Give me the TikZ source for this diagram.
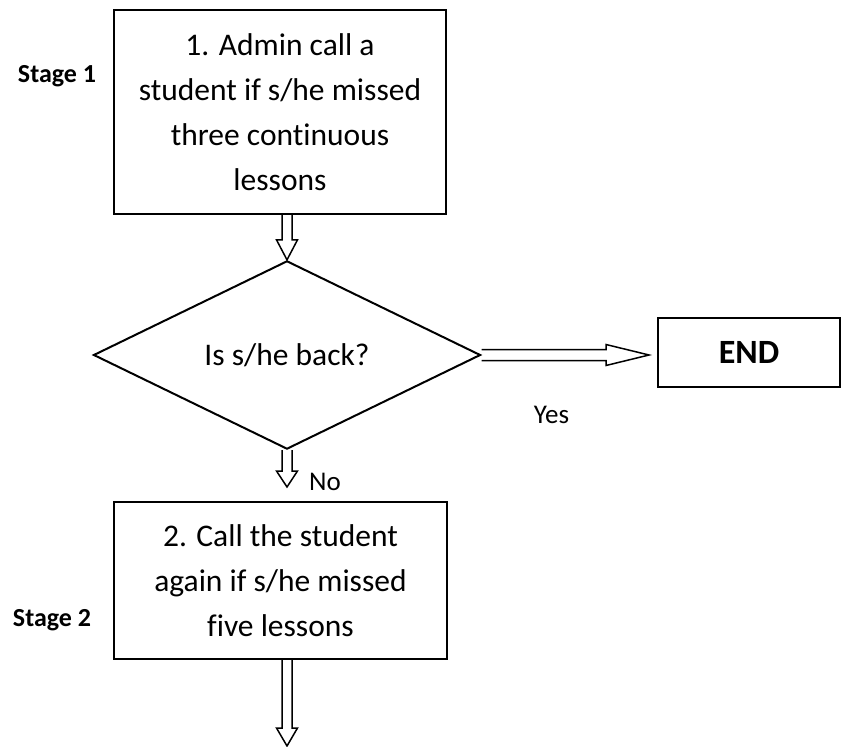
\documentclass[tikz,border=0pt]{standalone}
\usepackage{fontspec}
\setmainfont{Carlito}[Ligatures=NoCommon]
\usetikzlibrary{shapes.geometric,calc}

\begin{document}
\begin{tikzpicture}[x=1pt,y=-1pt,
	stepbox/.style={draw=black, line width=2pt, align=center, inner sep=0pt, font=\fontsize{31.5}{45}\selectfont},
	question/.style={draw=black, line width=2pt, diamond, inner sep=0pt, minimum width=387pt, minimum height=136pt, font=\fontsize{31.5}{45}\selectfont},
	stage/.style={inner sep=0pt, font=\fontsize{26}{30}\selectfont\bfseries},
	answer/.style={inner sep=0pt, font=\fontsize{27}{30}\selectfont},
	fat/.style={draw=black, line width=1.5pt, line join=miter}]
	\useasboundingbox (0,0) rectangle (842,746);
	% boxes and question
	\node [stepbox, minimum width=332pt, minimum height=204pt] (call1) at (280,112) {1. Admin call a\\student if s/he missed\\three continuous\\lessons};
	\node [question] (back) at (287,355) {Is s/he back?};
	\node [stepbox, minimum width=182pt, minimum height=69pt, font=\fontsize{34}{40}\selectfont\bfseries] (end) at (749,352.5) {END};
	\node [stepbox, minimum width=333pt, minimum height=157pt] (call2) at (280.5,580.5) {2. Call the student\\again if s/he missed\\five lessons};
	\node [stage] (stage1) at (57,76) {Stage 1};
	\node [stage] (stage2) at (52,620) {Stage 2};
	% free arrow ends
	\coordinate (notip) at ($(call2.north -| back.south)+(0,-14)$);
	\coordinate (endtip) at ($(back.east -| end.west)+(-8,0)$);
	\coordinate (last) at ($(call2.south -| back.south)+(0,86)$);
	% block arrows
	\draw [fat] ($(call1.south -| back.north)+(-5,0)$) -- ($(back.north)+(-5,-20)$) -- ++(-5.5,0) -- (back.north) -- ++(10.5,-20) -- ++(-5.5,0) -- ($(call1.south -| back.north)+(5,0)$);
	\draw [fat] ($(back.east)+(0,-5.5)$) -- ($(endtip)+(-43,-5.5)$) -- ++(0,-5) -- (endtip) -- ++(-43,10.5) -- ++(0,-5) -- ($(back.east)+(0,5.5)$);
	\draw [fat] ($(back.south)+(-5,0)$) -- ($(notip)+(-5,-16)$) -- ++(-5.5,0) -- (notip) -- ++(10.5,-16) -- ++(-5.5,0) -- ($(back.south)+(5,0)$);
	\draw [fat] ($(call2.south -| back.south)+(-5,0)$) -- ($(last)+(-5,-18)$) -- ++(-5.5,0) -- (last) -- ++(10.5,-18) -- ++(-5.5,0) -- ($(call2.south -| back.south)+(5,0)$);
	% labels
	\node [answer] (no) at ($(notip)+(38,-5)$) {No};
	\node [answer] (yes) at ($(back.east)+(70,60)$) {Yes};
\end{tikzpicture}
\end{document}
